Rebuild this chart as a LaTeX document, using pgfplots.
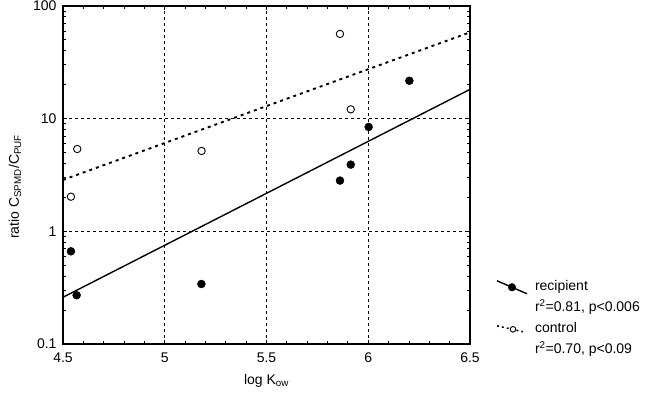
\documentclass[border=0pt]{standalone}
\usepackage{pgfplots}
\pgfplotsset{compat=1.18}
\usepackage{fontspec}
\setmainfont{Liberation Sans}
\begin{document}
\begin{tikzpicture}[x=1pt,y=1pt]
\useasboundingbox (0,0) rectangle (660,395);
\begin{axis}[
  at={(63pt,51pt)}, anchor=south west,
  scale only axis, width=407pt, height=338pt,
  xmin=4.5, xmax=6.5, ymode=log, ymin=0.1, ymax=100,
  xtick={4.5,5,5.5,6,6.5}, xticklabels={4.5,5,5.5,6,6.5},
  minor x tick num=4,
  ytick={0.1,1,10,100}, yticklabels={0.1,1,10,100},
  /pgf/number format/assume math mode=true,
  tick align=inside, xtick pos=both, ytick pos=both,
  major tick length=4pt, minor tick length=3pt,
  tick style={black, line width=0.9pt},
  axis line style={line width=1.4pt},
  grid=major,
  major grid style={black, line width=0.7pt, dash pattern=on 3pt off 3pt},
  tick label style={font=\fontsize{14}{16}\selectfont},
  xticklabel style={yshift=-5pt},
  yticklabel style={xshift=-3pt},
  xlabel={log K\textsubscript{ow}},
  ylabel={ratio C\textsubscript{SPMD}/C\textsubscript{PUF}},
  label style={font=\fontsize{14}{16}\selectfont},
  xlabel style={at={(axis description cs:0.5,-0.108)}, anchor=center},
  ylabel style={at={(axis description cs:-0.118,0.465)}, anchor=center, rotate=0},
  legend style={at={(axis description cs:1.064,0.195)}, anchor=north west,
    draw=none, fill=none, font=\fontsize{14}{16}\selectfont,
    row sep=4pt, inner sep=0pt,
    nodes={text height=10pt, text depth=3pt}},
  legend cell align=left,
]
\addplot[forget plot, only marks, mark=*, mark size=4pt, black] coordinates {
 (4.539,0.665) (4.567,0.271) (5.180,0.341) (5.861,2.82) (5.914,3.91) (6.002,8.44) (6.202,21.7)};
\addplot[forget plot, only marks, mark=o, mark size=3.7pt, black, mark options={line width=0.9pt}] coordinates {
 (4.570,5.38) (4.539,2.03) (5.181,5.17) (5.861,56.5) (5.914,12.1)};
\addplot[forget plot, black, line width=1.4pt] coordinates {(4.5,0.26) (6.5,18.2)};
\addplot[forget plot, black, line width=1.9pt, dash pattern=on 3pt off 4pt] coordinates {(4.5,2.86) (6.5,58.4)};
\addlegendimage{legend image code/.code={
  \path[draw=none, fill=none] (0pt,-1pt) rectangle (36pt,1pt);
  \draw[black, line width=1.4pt] (0pt,6pt) -- (30pt,-7pt);
  \fill[black] (15pt,-0.5pt) circle (3.8pt);}}
\addlegendentry{recipient}
\addlegendimage{empty legend}
\addlegendentry{r\textsuperscript{2}=0.81, p<0.006}
\addlegendimage{legend image code/.code={
  \path[draw=none, fill=none] (0pt,-1pt) rectangle (36pt,1pt);
  \draw[black, line width=1.5pt, dash pattern=on 2pt off 3pt] (0pt,3pt) -- (26pt,-3pt);
  \draw[black, line width=0.9pt, fill=white] (16pt,-0.5pt) circle (2.8pt);}}
\addlegendentry{control}
\addlegendimage{empty legend}
\addlegendentry{r\textsuperscript{2}=0.70, p<0.09}
\end{axis}
\end{tikzpicture}
\end{document}
